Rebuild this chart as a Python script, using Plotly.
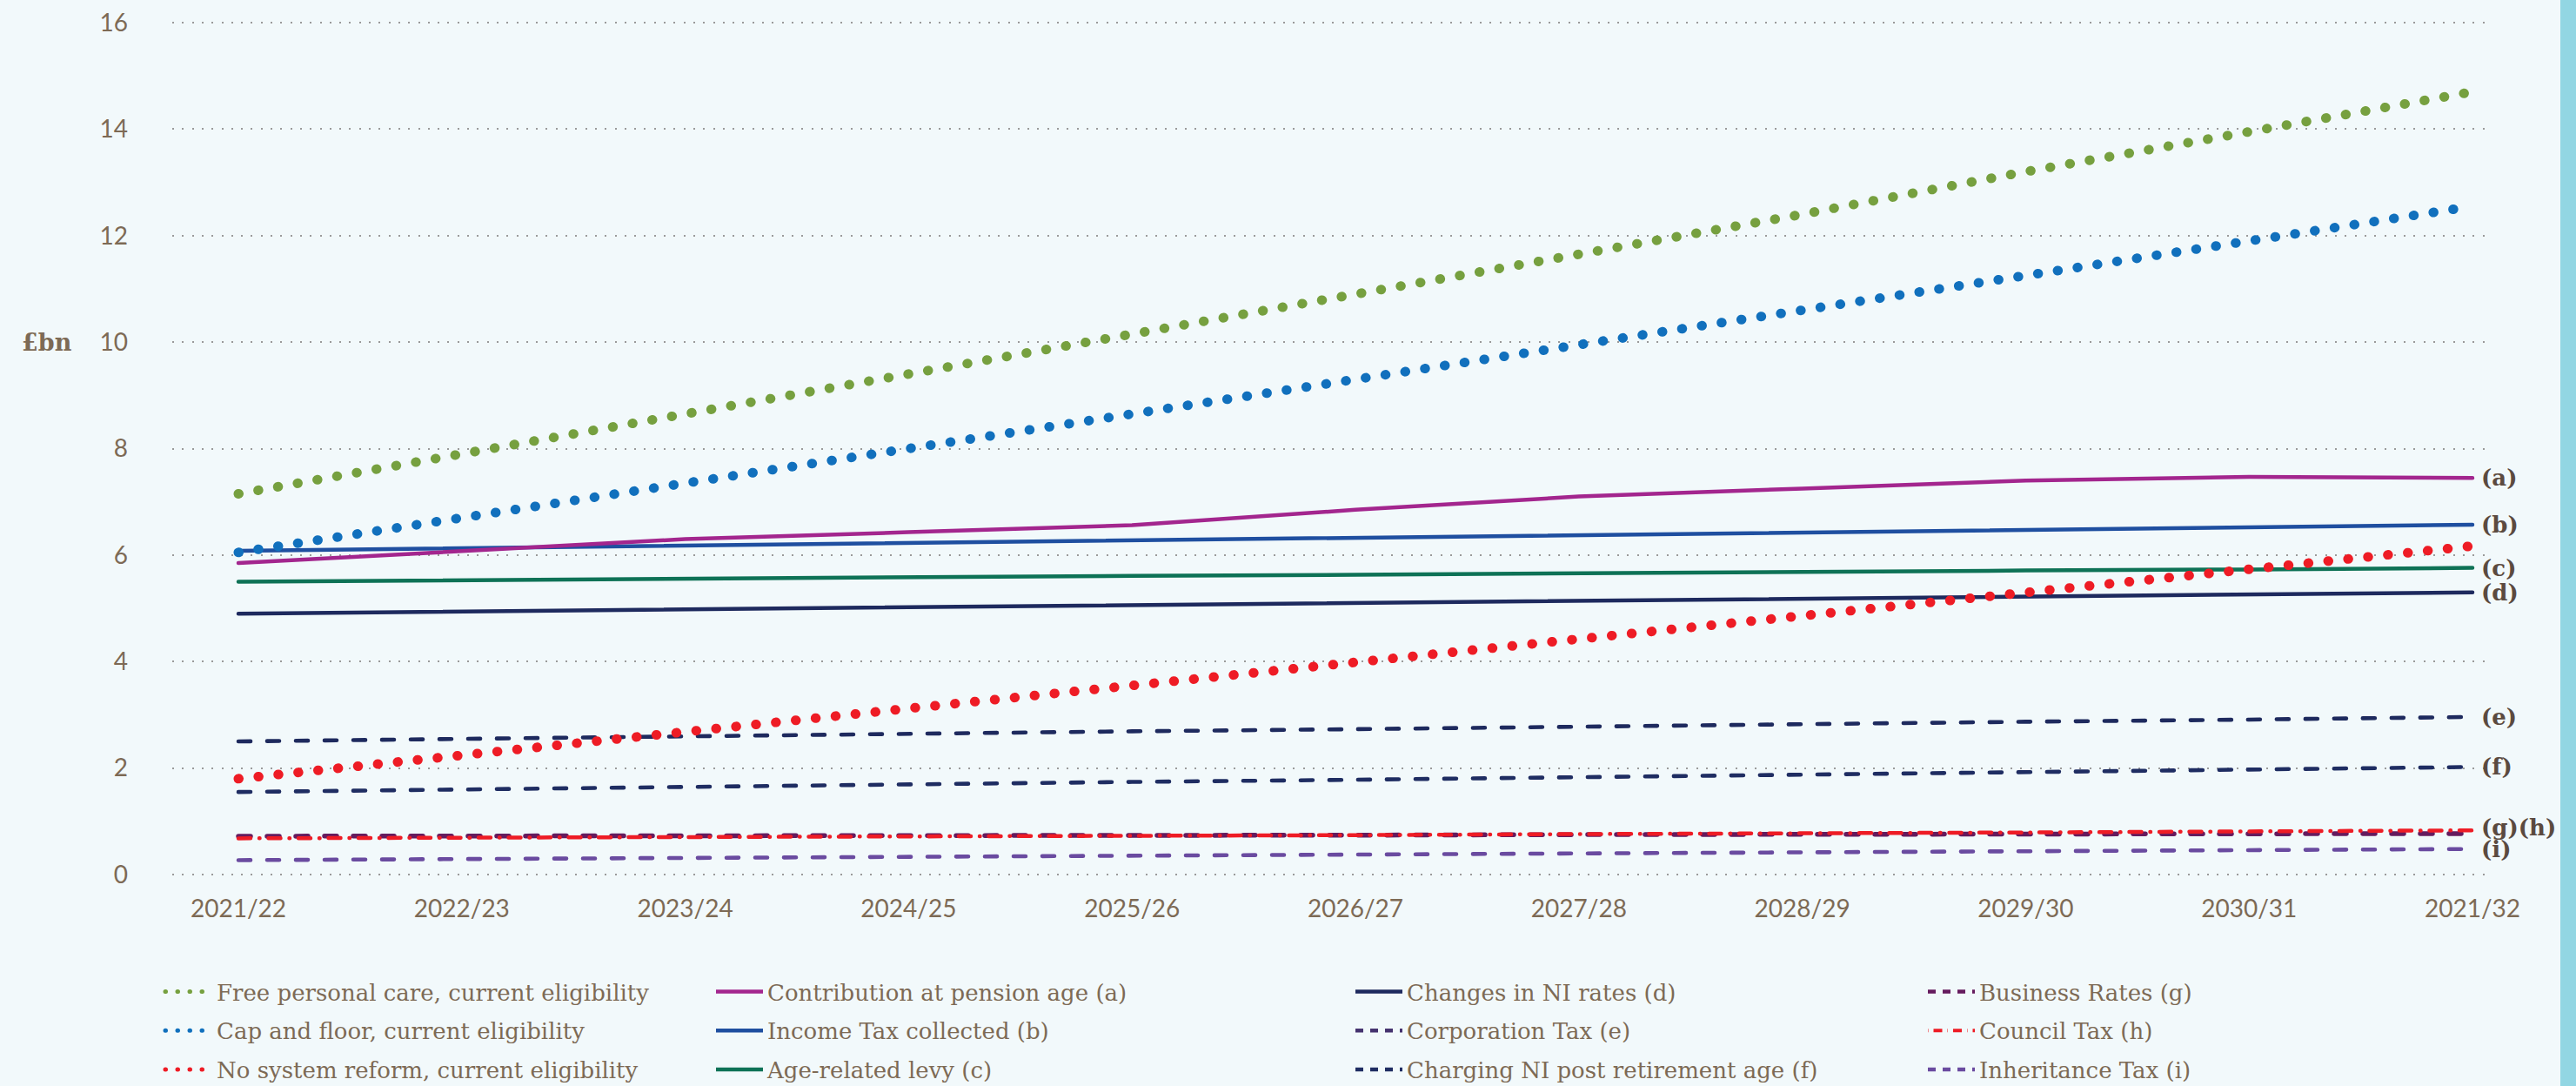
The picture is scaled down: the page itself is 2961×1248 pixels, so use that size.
import plotly.graph_objects as go

years = ["2021/22", "2022/23", "2023/24", "2024/25", "2025/26", "2026/27",
         "2027/28", "2028/29", "2029/30", "2030/31", "2021/32"]

free_personal_care = [7.15, 7.9, 8.65, 9.4, 10.15, 10.9, 11.65, 12.4, 13.2, 13.95, 14.7]
cap_and_floor = [6.05, 6.7, 7.35, 8.0, 8.65, 9.3, 9.95, 10.6, 11.25, 11.9, 12.55]
no_system_reform = [1.8, 2.25, 2.68, 3.12, 3.55, 3.98, 4.42, 4.87, 5.3, 5.73, 6.17]
contribution_pension_age = [5.85, 6.08, 6.3, 6.43, 6.56, 6.85, 7.1, 7.25, 7.4, 7.47, 7.45]
income_tax = [6.08, 6.13, 6.18, 6.23, 6.28, 6.33, 6.38, 6.43, 6.47, 6.52, 6.57]
age_related_levy = [5.5, 5.53, 5.56, 5.58, 5.61, 5.63, 5.66, 5.68, 5.71, 5.73, 5.76]
ni_rates = [4.9, 4.94, 4.98, 5.02, 5.06, 5.1, 5.14, 5.18, 5.22, 5.26, 5.3]
corporation_tax = [2.5, 2.55, 2.6, 2.64, 2.69, 2.73, 2.78, 2.82, 2.87, 2.91, 2.96]
ni_post_retirement = [1.55, 1.6, 1.64, 1.69, 1.74, 1.78, 1.83, 1.88, 1.93, 1.97, 2.02]
business_rates = [0.72, 0.72, 0.73, 0.73, 0.74, 0.74, 0.75, 0.75, 0.76, 0.76, 0.77]
council_tax = [0.68, 0.69, 0.7, 0.71, 0.73, 0.74, 0.76, 0.77, 0.79, 0.81, 0.83]
inheritance_tax = [0.27, 0.29, 0.31, 0.33, 0.35, 0.37, 0.39, 0.41, 0.44, 0.46, 0.48]

y_ticks = [0, 2, 4, 6, 8, 10, 12, 14, 16]

W, H = 2961, 1248
BG = "#f2f9fb"
TEXT = "#7d6a55"
LABEL = "#5b4a40"
LEG_FONT = "DejaVu Serif"
TICK_FONT = "Lato"

DOT = "0.5px,22.5px"
DASH = "14px,19px"
L_DOT = "0.5px,13.5px"
L_DASH = "9px,8px"

x = list(range(len(years)))

# name, values, colour, width, dash, legend, legend dash, legend width, legend colour, end label
series = [
    ("Free personal care, current eligibility", free_personal_care, "#76a03f", 11, DOT, "legend", L_DOT, 5, "#76a03f", None),
    ("Cap and floor, current eligibility", cap_and_floor, "#1170bd", 11, DOT, "legend", L_DOT, 5, "#1170bd", None),
    ("No system reform, current eligibility", no_system_reform, "#ee1c25", 11, DOT, "legend", L_DOT, 5, "#ee1c25", None),
    ("Contribution at pension age (a)", contribution_pension_age, "#a3268e", 4.5, "solid", "legend2", "solid", 4.5, "#a3268e", "(a)"),
    ("Income Tax collected (b)", income_tax, "#1f4fa0", 4.5, "solid", "legend2", "solid", 4.5, "#1f4fa0", "(b)"),
    ("Age-related levy (c)", age_related_levy, "#0e7256", 4.5, "solid", "legend2", "solid", 4.5, "#0e7256", "(c)"),
    ("Changes in NI rates (d)", ni_rates, "#1e2a5e", 4.5, "solid", "legend3", "solid", 4.5, "#1e2a5e", "(d)"),
    ("Corporation Tax (e)", corporation_tax, "#1e2a5e", 4.6, DASH, "legend3", L_DASH, 4.5, "#45336f", "(e)"),
    ("Charging NI post retirement age (f)", ni_post_retirement, "#1f2d62", 4.6, DASH, "legend3", L_DASH, 4.5, "#1f2d62", "(f)"),
    ("Business Rates (g)", business_rates, "#651b5e", 5.5, DASH, "legend4", L_DASH, 4.5, "#651b5e", "(g)(h)"),
    ("Council Tax (h)", council_tax, "#ee1c25", 4.5, "14px,10px,0.5px,10px", "legend4", "0.5px,6px,10px,6px", 4, "#ee1c25", None),
    ("Inheritance Tax (i)", inheritance_tax, "#6a4ba0", 4.6, DASH, "legend4", L_DASH, 4.5, "#6a4ba0", "(i)"),
]

fig = go.Figure()

# draw order: dashed/solid first, dotted on top
draw_order = [11, 9, 10, 8, 7, 6, 5, 4, 3, 2, 1, 0]
for i in draw_order:
    name, vals, col, w, dash, lg, ldash, lw, lcol, lab = series[i]
    fig.add_trace(go.Scatter(x=x, y=vals, mode="lines", name=name, showlegend=False,
                             line=dict(color=col, width=w, dash=dash), hoverinfo="skip"))

# legend entries
for i, (name, vals, col, w, dash, lg, ldash, lw, lcol, lab) in enumerate(series):
    fig.add_trace(go.Scatter(x=[None], y=[None], mode="lines", name=name, legend=lg,
                             legendgroup="g%d" % i, showlegend=True,
                             line=dict(color=lcol, width=lw, dash=ldash)))

# end labels
for name, vals, col, w, dash, lg, ldash, lw, lcol, lab in series:
    if lab:
        fig.add_annotation(x=x[-1], y=vals[-1], text=lab, showarrow=False, xanchor="left",
                           xshift=8, yshift=(7 if lab == "(g)(h)" else 0),
                           font=dict(family="DejaVu Serif", size=26, color=LABEL, weight="bold"))

fig.add_annotation(xref="paper", x=23 / W, y=10, yref="y", text="£bn", showarrow=False,
                   xanchor="left", font=dict(family="DejaVu Serif", size=27, color=TEXT, weight="bold"))

# right-hand band
fig.add_shape(type="rect", xref="paper", yref="paper", x0=2943 / W, x1=1.0,
              y0=0, y1=1, fillcolor="#92d6e3", line=dict(width=0), layer="below")

legend_style = dict(y=1 - 1116 / H, xanchor="left", yanchor="top", orientation="v",
                    bgcolor="rgba(0,0,0,0)", font=dict(family=LEG_FONT, size=26, color=TEXT),
                    itemwidth=54, tracegroupgap=8, traceorder="grouped")

# y range padded slightly so the 0 and 16 gridlines are drawn
pad = 0.03
px_per_unit = (1005 - 26) / 16
y_top_px = 26 - pad * px_per_unit
y_bot_px = 1005 + pad * px_per_unit

fig.update_layout(
    width=W, height=H,
    margin=dict(l=0, r=0, t=0, b=0, pad=0, autoexpand=False),
    paper_bgcolor=BG, plot_bgcolor=BG,
    showlegend=True,
    legend=dict(x=185 / W, **legend_style),
    legend2=dict(x=818 / W, **legend_style),
    legend3=dict(x=1553 / W, **legend_style),
    legend4=dict(x=2211 / W, **legend_style),
    xaxis=dict(domain=[198 / W, 2860 / W], range=[-0.296, 10.07], tickmode="array",
               tickvals=x, ticktext=years, automargin=False,
               showgrid=False, zeroline=False, showline=False, ticks="",
               tickfont=dict(family=TICK_FONT, size=28, color=TEXT), ticklabelstandoff=18),
    yaxis=dict(domain=[1 - y_bot_px / H, 1 - y_top_px / H], range=[-pad, 16 + pad],
               tickmode="array", tickvals=y_ticks, showgrid=True, automargin=False,
               gridcolor="#9a9a9a", gridwidth=1.5, griddash="2px,9.3px", zeroline=False,
               showline=False, ticks="", tickfont=dict(family=TICK_FONT, size=28, color=TEXT),
               ticklabelstandoff=50),
)

css = ("body{margin:0;padding:0;overflow:hidden;} "
       ".scatterlayer .js-line, .legend path {stroke-linecap: round !important;}")
post = "var s=document.createElement('style');s.innerHTML='" + css + "';document.head.appendChild(s);"

fig.write_html("out.html", post_script=post, config={"displayModeBar": False})
